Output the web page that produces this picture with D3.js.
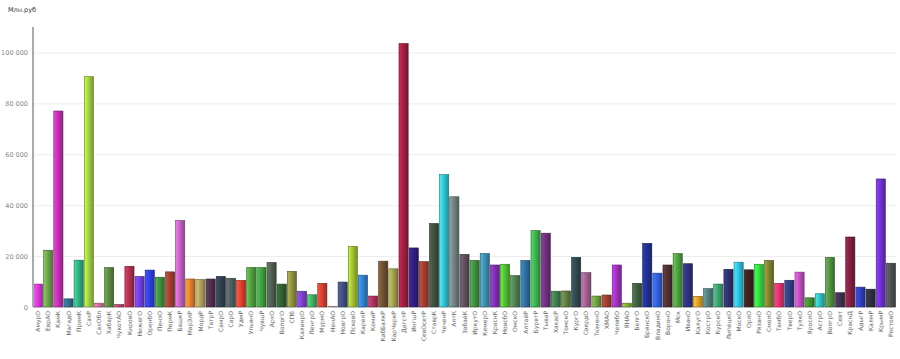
<!DOCTYPE html>
<html>
<head>
<meta charset="utf-8">
<script src="https://cdn.jsdelivr.net/npm/d3@7"></script>
<style>
  html, body { margin: 0; padding: 0; background: #fff; overflow: hidden; }
  svg { display: block; }
  text { font-family: "DejaVu Sans", sans-serif; }
</style>
</head>
<body>
<script>
const Width = 900;
const Height = 359;

const margin = { left: 33, right: 4, top: 27, bottom: 52 };
const innerWidth = Width - margin.left - margin.right;
const innerHeight = Height - margin.top - margin.bottom;

// regions (x categories)
const regions = ["АмурО", "ЕврАО", "КамК", "МагадО", "ПримК", "СахР", "СахОбл", "ХабарК", "ЧукотАО", "КировО",
  "НижегО", "ОренбО", "ПензО", "ПермК", "БашкР", "МарЭлР", "МордР", "ТатрР", "СамрО", "СарО",
  "УдмР", "УльянО", "ЧувшР", "АрхО", "ВологО", "СПб", "КалинрО", "ЛенгрО", "МурмО", "НенАО",
  "НовгрО", "ПсковО", "КарелР", "КомиР", "КабБалкР", "КарЧеркР", "ДагстР", "ИнгшР", "СевОсетР", "СтаврК",
  "ЧеченР", "АлтК", "ЗабайК", "ИркутО", "КемерО", "КраснК", "НовсбО", "ОмскО", "АлтайР", "БурятР",
  "ТываР", "ХакасР", "ТомскО", "КургО", "СвердО", "ТюменО", "ХМАО", "ЧелябО", "ЯНАО", "БелгО",
  "БрянскО", "ВладимО", "ВоронО", "Мск", "ИванО", "КалугО", "КострО", "КурскО", "ЛипецкО", "МоскО",
  "ОрлО", "РязанО", "СмолО", "ТамбО", "ТверО", "ТулкО", "ЯрослО", "АстрО", "ВолгрО", "Севт",
  "КраснД", "АдыгР", "КалмР", "КрымР", "РостовО"];

// values, млн руб
const values = [9000, 22300, 77000, 3200, 18400, 90500, 1500, 15500, 1000, 16000,
  12000, 14500, 11700, 13800, 34000, 11000, 10800, 11000, 12000, 11300,
  10500, 15500, 15500, 17500, 9000, 14000, 6200, 4800, 9300, 300,
  9800, 23800, 12500, 4300, 18000, 15000, 103500, 23200, 17800, 32800,
  52000, 43300, 20700, 18300, 21000, 16500, 16800, 12300, 18300, 30000,
  29000, 6200, 6300, 19500, 13500, 4300, 4700, 16500, 1500, 9300,
  25000, 13300, 16500, 21000, 17000, 4200, 7200, 9000, 14800, 17600,
  14600, 16800, 18300, 9300, 10500, 13700, 3600, 5200, 19500, 5600,
  27500, 7800, 7000, 50300, 17200];

const barColors = ["#d63ad6", "#6aa04a", "#c030b0", "#2f6f8f", "#30b080", "#a0d040", "#d070a0", "#5a8a40", "#c04070", "#b03050",
  "#7040e0", "#3040e0", "#409040", "#a04030", "#c060c0", "#e08030", "#b0a060", "#503050", "#304050", "#506060",
  "#e04030", "#50a040", "#40a040", "#506050", "#306030", "#909040", "#8040d0", "#40b060", "#d04030", "#c0c0c0",
  "#405080", "#a0c030", "#3080d0", "#b03060", "#705030", "#a0a050", "#a02040", "#302080", "#a04030", "#405040",
  "#30c0d0", "#708080", "#605060", "#409040", "#4090b0", "#8030b0", "#50c030", "#508050", "#3070a0", "#40b050",
  "#703080", "#408050", "#608040", "#304850", "#a06090", "#70a040", "#a04030", "#a030c0", "#80b030", "#406040",
  "#203090", "#3060e0", "#503030", "#50a040", "#303080", "#e0a020", "#508080", "#40a070", "#303070", "#30c0e0",
  "#402020", "#30e040", "#808030", "#e03070", "#304080", "#c050c0", "#409030", "#30c0c0", "#509040", "#403050",
  "#802040", "#3040c0", "#303040", "#7030d0", "#505050"];

const yTicks = [0, 20000, 40000, 60000, 80000, 100000];

const data = regions.map((r, i) => ({ region: r, value: values[i], color: barColors[i] }));

const svg = d3.select('body')
  .append('svg')
    .attr('width', Width)
    .attr('height', Height);

// gradients for the glossy bars
const defs = svg.append('defs');
data.forEach((d, i) => {
  const c = d3.color(d.color);
  const grad = defs.append('linearGradient')
    .attr('id', 'grad' + i)
    .attr('x1', '0%').attr('x2', '100%')
    .attr('y1', '0%').attr('y2', '0%');
  grad.append('stop').attr('offset', '0%').attr('stop-color', c.brighter(0.7));
  grad.append('stop').attr('offset', '35%').attr('stop-color', c.brighter(0.2));
  grad.append('stop').attr('offset', '100%').attr('stop-color', c.darker(0.9));
});

const g = svg.append('g')
  .attr('transform', `translate(${margin.left}, ${margin.top})`);

const xScale = d3.scaleBand()
  .domain(regions)
  .range([0, innerWidth])
  .padding(0);

const yScale = d3.scaleLinear()
  .domain([0, 110000])
  .range([innerHeight, 0]);

const formatter = v => d3.format(",")(v).replace(/,/g, " ");

// grid + y labels
const yAxis = d3.axisLeft(yScale)
  .tickValues(yTicks)
  .tickSize(-innerWidth)
  .tickPadding(5)
  .tickFormat(formatter);

const yAxisG = g.append('g')
  .attr('class', 'y axis')
  .call(yAxis);
yAxisG.select('.domain').remove();
yAxisG.selectAll('line').attr('stroke', '#ececec');
yAxisG.selectAll('text')
  .attr('fill', '#888')
  .style('font-size', '6.5px');

// bars
g.selectAll('.bar')
  .data(data)
  .join('rect')
    .attr('class', 'bar')
    .attr('x', d => xScale(d.region) + 0.5)
    .attr('y', d => yScale(d.value))
    .attr('width', xScale.bandwidth() - 1)
    .attr('height', d => innerHeight - yScale(d.value))
    .attr('fill', (d, i) => `url(#grad${i})`)
    .attr('stroke', d => d3.color(d.color).darker(1.5))
    .attr('stroke-width', 0.6);

// y axis line
g.append('line')
  .attr('x1', 0).attr('x2', 0)
  .attr('y1', 0).attr('y2', innerHeight)
  .attr('stroke', '#aaa')
  .attr('stroke-width', 2);

// x labels, rotated
g.selectAll('.xlabel')
  .data(regions)
  .join('text')
    .attr('class', 'xlabel')
    .attr('transform', d => `translate(${xScale(d) + xScale.bandwidth() / 2}, ${innerHeight + 4}) rotate(-90)`)
    .attr('dy', '0.35em')
    .attr('text-anchor', 'end')
    .attr('fill', '#666')
    .style('font-size', '6px')
    .text(d => d);

// unit label
svg.append('text')
  .attr('x', 8)
  .attr('y', 12)
  .attr('fill', '#333')
  .style('font-size', '6.5px')
  .text('Млн.руб');
</script>
</body>
</html>
